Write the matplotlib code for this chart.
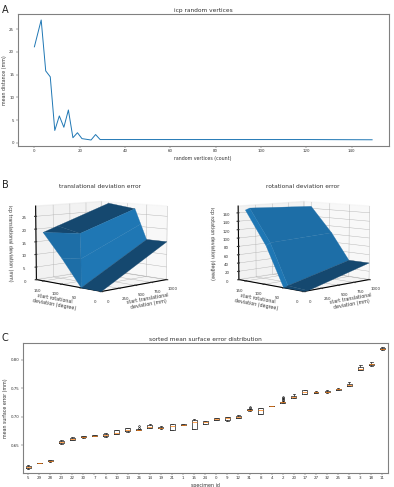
import matplotlib
matplotlib.use('Agg')
import matplotlib.pyplot as plt
import numpy as np

GRAY = '#808080'
TEXT = '#333333'
LIGHT = '#1f77b4'
MID = '#1d6ea7'
DARK = '#15486f'

# icp convergence against number of random vertices
vertex_counts = [0, 3, 5, 7, 9, 11, 13, 15, 17, 19, 21, 25, 27, 29, 40, 60, 80, 100, 120, 149]
mean_distance = [21.1, 27.0, 15.8, 14.5, 2.7, 5.9, 3.4, 7.2, 1.1, 2.2, 0.9, 0.6, 1.8, 0.7,
                  0.7, 0.7, 0.7, 0.7, 0.7, 0.65]

# translational deviation surface, one row per start rotation band
trans_start_x = [[0, 1, 1000],
                 [0, 1, 1000],
                 [0, 110, 1000],
                 [0, 210, 1000],
                 [0, 210, 1000]]
trans_start_y = [[0, 0, 0],
                 [50, 50, 50],
                 [100, 70, 65],
                 [150, 90, 80],
                 [150, 150, 150]]
trans_error = [[0, 0, 15],
               [0, 0, 15],
               [10, 10, 21],
               [19, 19, 27],
               [19, 21, 28.5]]

# rotational deviation surface
rot_start_x = [[0, 60, 1000],
               [0, 60, 1000],
               [0, 60, 1000],
               [0, 60, 1000]]
rot_start_y = [[0, 0, 0],
               [50, 50, 50],
               [95, 95, 95],
               [150, 150, 150]]
rot_error = [[0, 0, 40],
             [0, 3, 40],
             [90, 96, 103],
             [168, 172, 165]]

# per specimen surface error, sorted by median
specimen_ids = [5, 29, 28, 23, 22, 30, 7, 6, 10, 13, 26, 14, 19, 21, 1, 15, 24,
                0, 9, 12, 31, 8, 4, 2, 20, 17, 27, 32, 25, 16, 3, 18, 11]
medians = [.612, .619, .623, .655, .661, .665, .667, .668, .672, .677, .677, .682, .681, .683, .686, .690, .690,
           .696, .697, .699, .712, .712, .719, .725, .735, .743, .743, .744, .748, .756, .784, .792, .819]
q1s = [.610, .6185, .622, .654, .660, .664, .6665, .666, .669, .675, .6765, .680, .680, .676, .6855, .678, .688,
       .695, .695, .698, .711, .705, .7185, .724, .733, .739, .742, .743, .747, .754, .782, .790, .818]
q3s = [.614, .6195, .624, .657, .663, .666, .6675, .670, .676, .680, .678, .685, .682, .687, .6865, .695, .692,
       .697, .699, .701, .713, .716, .7195, .726, .737, .746, .744, .745, .749, .758, .787, .793, .820]
whisker_low = [.608, .6185, .621, .653, .659, .663, .6665, .665, .669, .674, .6765, .680, .679, .676, .6855, .678, .687,
               .695, .692, .697, .710, .705, .7185, .724, .732, .739, .741, .742, .746, .753, .782, .789, .817]
whisker_high = [.615, .6195, .625, .660, .664, .667, .6675, .672, .676, .681, .678, .687, .683, .688, .6865, .696, .693,
                .697, .700, .703, .714, .716, .7195, .727, .739, .747, .745, .746, .750, .761, .791, .796, .822]
outliers = {26: [.681, .684], 31: [.715, .717], 2: [.729, .731, .733, .735]}


def style_flat(ax, title, xlabel, ylabel):
    ax.set_title(title, fontsize=4.2, color=TEXT, pad=1.5)
    ax.set_xlabel(xlabel, fontsize=3.4, color=TEXT, labelpad=1.8)
    ax.set_ylabel(ylabel, fontsize=3.4, color=TEXT, labelpad=1.5)
    ax.tick_params(labelsize=2.9, length=1.2, width=0.3, pad=1.2, colors=TEXT)
    for spine in ax.spines.values():
        spine.set_color(GRAY)
        spine.set_linewidth(0.8)


def draw_surface(rect, xs, ys, zs, quad_colors, z_ticks, z_label, z_max):
    ax = fig.add_axes(rect, projection='3d')
    ax.set_box_aspect((4, 4, 3.2))
    # edges take the face colours, a thin line hides the seams between quads
    ax.plot_surface(np.array(xs, dtype=float), np.array(ys, dtype=float), np.array(zs, dtype=float),
                    facecolors=np.array(quad_colors), shade=False, linewidth=0.2, rstride=1, cstride=1)
    ax.view_init(elev=7, azim=-135)
    ax.set_xlim(0, 1000)
    ax.set_ylim(0, 170)
    ax.set_zlim(0, z_max)
    ax.set_xticks([0, 250, 500, 750, 1000])
    ax.set_yticks([0, 50, 100, 150])
    ax.set_zticks(z_ticks)
    ax.tick_params(labelsize=2.9, length=0, pad=-3, colors=TEXT)
    ax.set_xlabel('start translational\ndeviation (mm)', fontsize=3.4, color=TEXT, labelpad=-11)
    ax.set_ylabel('start rotational\ndeviation (degree)', fontsize=3.4, color=TEXT, labelpad=-11)
    ax.set_zlabel(z_label, fontsize=3.4, color=TEXT, labelpad=-10)
    for axis in (ax.xaxis, ax.yaxis, ax.zaxis):
        axis._axinfo['grid']['linewidth'] = 0.3
        axis._axinfo['axisline']['linewidth'] = 0.3
    return ax


fig = plt.figure(figsize=(3.94, 4.87), dpi=100)
W, H = 394.0, 487.0

# A: line plot
ax_a = fig.add_axes([17.5 / W, 1 - 146 / H, 371.5 / W, 132 / H])
ax_a.plot(vertex_counts, mean_distance, color=LIGHT, linewidth=0.7)
ax_a.set_xticks(range(0, 141, 20))
ax_a.set_yticks(range(0, 26, 5))
style_flat(ax_a, 'icp random vertices', 'random vertices (count)', 'mean distance (mm)')

# B: surfaces, each quad gets the tone of the face it belongs to
trans_colors = [[DARK, DARK], [MID, LIGHT], [MID, LIGHT], [DARK, DARK]]
rot_colors = [[DARK, DARK], [LIGHT, MID], [LIGHT, MID]]
draw_surface([-5.5 / W, 1 - 318 / H, 210 / W, 146 / H], trans_start_x, trans_start_y, trans_error, trans_colors,
             range(0, 26, 5), 'icp translational deviation (mm)', 29)
draw_surface([197 / W, 1 - 318 / H, 210 / W, 146 / H], rot_start_x, rot_start_y, rot_error, rot_colors,
             range(0, 161, 20), 'icp rotation deviation (degree)', 176)
fig.text(100 / W, 1 - 186 / H, 'translational deviation error', fontsize=4.2, color=TEXT, ha='center', va='center')
fig.text(303 / W, 1 - 186 / H, 'rotational deviation error', fontsize=4.2, color=TEXT, ha='center', va='center')

# C: box plots
ax_c = fig.add_axes([22.5 / W, 1 - 473 / H, 365.5 / W, 130 / H])
stats = []
for i, sid in enumerate(specimen_ids):
    stats.append({'med': medians[i], 'q1': q1s[i], 'q3': q3s[i],
                  'whislo': whisker_low[i], 'whishi': whisker_high[i],
                  'fliers': outliers.get(sid, [])})
thin = dict(linewidth=0.55, color='#333333')
ax_c.bxp(stats, positions=range(1, len(stats) + 1), widths=0.45,
         boxprops=thin, whiskerprops=thin, capprops=thin,
         medianprops=dict(linewidth=0.5, color='#ff7f0e'),
         flierprops=dict(marker='o', markersize=1.2, markeredgewidth=0.4, markerfacecolor='none'))
ax_c.set_xticks(range(1, len(stats) + 1))
ax_c.set_xticklabels(specimen_ids)
ax_c.set_yticks([.65, .70, .75, .80])
ax_c.set_yticklabels(['0.65', '0.70', '0.75', '0.80'])
ax_c.set_ylim(.6015, .829)
style_flat(ax_c, 'sorted mean surface error distribution', 'specimen id', 'mean surface error (mm)')

for letter, y in (('A', 10), ('B', 185), ('C', 338)):
    fig.text(2 / W, 1 - y / H, letter, fontsize=7, color='#222222', va='center')

fig.savefig('out.png', dpi=100)
